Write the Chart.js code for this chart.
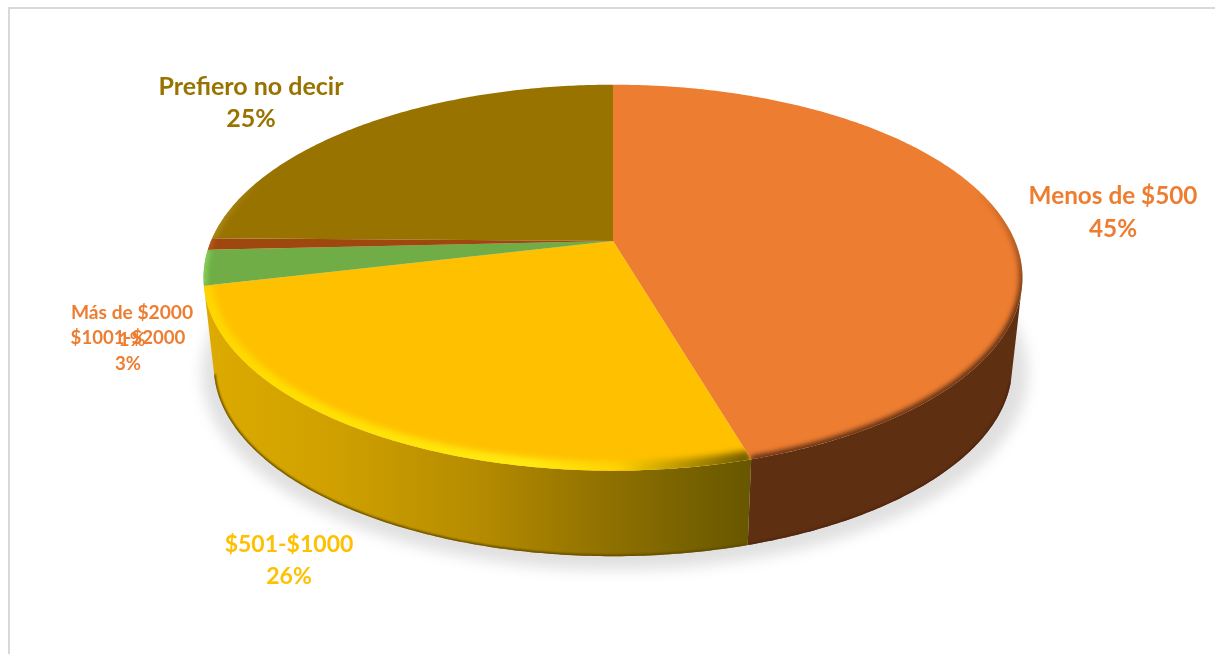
<!DOCTYPE html>
<html>
<head>
<meta charset="utf-8">
<style>
  html, body { margin: 0; padding: 0; background: #fff; }
  canvas { display: block; }
</style>
<script src="https://cdn.jsdelivr.net/npm/chart.js@4/dist/chart.umd.min.js"></script>
</head>
<body>
<canvas id="chart" width="1215" height="654"></canvas>
<script>
const categories = ["Menos de $500", "$501-$1000", "$1001-$2000", "Más de $2000", "Prefiero no decir"];
const shares = [45, 26, 3, 1, 25];

const sliceColors = ["#ED7D31", "#FFC000", "#70AD47", "#9E480E", "#997300"];
const labelColors = ["#ED7D31", "#FFC000", "#ED7D31", "#ED7D31", "#997300"];

// Text placement per category: centre x, first baseline, second baseline, font size
const labelSpots = [
  [1113, 204, 237, 24.3],
  [289, 552, 584, 23],
  [128, 344, 370, 18.6],
  [132, 319, 346, 19.2],
  [251, 95, 127, 25],
];

// Tilted disc seen in perspective: apex of the slices, half width and depth foreshortening.
// twist leans the front of the disc a little clockwise, the top edge stays put.
const disc = { cx: 613, cy: 241, a: 402, b: 186, k: 0.19, twist: 0.03 };
const wall = { drop: 89, xScale: 0.975, yScale: 0.985, minV: 0.25 };

function rimPoint(angle, lower) {
  const t = angle + (disc.twist * (1 + Math.sin(angle))) / 2;
  const u = Math.cos(t);
  const v = Math.sin(t);
  const w = 1 - disc.k * v;
  const x = (disc.a * u) / w;
  const y = (disc.b * v) / w;
  if (lower) {
    return [disc.cx + x * wall.xScale, disc.cy + y * wall.yScale + wall.drop];
  }
  return [disc.cx + x, disc.cy + y];
}

function traceRim(ctx, from, to, lower, join) {
  const steps = Math.max(2, Math.ceil(Math.abs(to - from) * 90));
  for (let i = 0; i <= steps; i++) {
    const p = rimPoint(from + ((to - from) * i) / steps, lower);
    if (i === 0 && !join) ctx.moveTo(p[0], p[1]);
    else ctx.lineTo(p[0], p[1]);
  }
}

function xGradient(ctx, stops) {
  const g = ctx.createLinearGradient(200, 0, 750, 0);
  stops.forEach(function (s) {
    g.addColorStop(s[0], s[1]);
  });
  return g;
}

// Colour of the bevelled edge on the top face, and of the side wall
function rimStyle(ctx, index) {
  if (index === 0) {
    // fades out towards the back of the disc
    const g = ctx.createLinearGradient(0, 190, 0, 310);
    g.addColorStop(0, "rgba(94, 46, 18, 0)");
    g.addColorStop(1, "rgba(94, 46, 18, 1)");
    return g;
  }
  if (index === 1) {
    return xGradient(ctx, [
      [0, "#FFD400"],
      [0.15, "#FFDE00"],
      [0.6, "#FFEA10"],
      [0.76, "#FFD000"],
      [0.88, "#B89400"],
      [1, "#6E5800"],
    ]);
  }
  if (index === 2) return "#86CF58";
  if (index === 3) return "#B8581A";
  const back = ctx.createLinearGradient(212, 0, 262, 0);
  back.addColorStop(0, "rgba(176, 138, 24, 1)");
  back.addColorStop(1, "rgba(176, 138, 24, 0)");
  return back;
}

function wallStyle(ctx, index) {
  if (index === 0) return "#5F2F12";
  return xGradient(ctx, [
    [0, "#DDAB00"],
    [0.25, "#CFA000"],
    [0.5, "#B68C00"],
    [0.75, "#8E7000"],
    [1, "#675700"],
  ]);
}

class Arc3D extends Chart.ArcElement {
  static id = "arc3d";

  draw(ctx) {
    const index = this.$context ? this.$context.dataIndex : 0;

    ctx.save();
    ctx.beginPath();
    ctx.moveTo(disc.cx, disc.cy);
    traceRim(ctx, this.startAngle, this.endAngle, false, true);
    ctx.closePath();
    ctx.fillStyle = this.options.backgroundColor;
    ctx.fill();
    ctx.clip();

    ctx.filter = index === 1 ? "blur(3px)" : "blur(2.5px)";
    ctx.beginPath();
    traceRim(ctx, this.startAngle, this.endAngle, false, false);
    ctx.strokeStyle = rimStyle(ctx, index);
    ctx.lineWidth = index === 1 ? 18 : 7;
    ctx.stroke();
    ctx.restore();
  }
}

class Pie3DController extends Chart.PieController {
  static id = "pie3d";
  static defaults = { dataElementType: "arc3d" };
}

Chart.register(Arc3D, Pie3DController);

// Frame lines along the top and left, ground shadow and side walls behind the slices
const bodyPlugin = {
  id: "pieBody",
  beforeDatasetsDraw(chart) {
    const ctx = chart.ctx;

    ctx.save();
    ctx.strokeStyle = "#D9D9D9";
    ctx.lineWidth = 2;
    ctx.beginPath();
    ctx.moveTo(1215, 8);
    ctx.lineTo(9, 8);
    ctx.lineTo(9, 654);
    ctx.stroke();
    ctx.restore();

    ctx.save();
    ctx.filter = "blur(7px)";
    ctx.fillStyle = "rgba(0, 0, 0, 0.12)";
    ctx.beginPath();
    ctx.ellipse(disc.cx + 2, 373, 413, 197, 0, 0, Math.PI * 2);
    ctx.fill();
    ctx.restore();

    const arcs = chart.getDatasetMeta(0).data;
    const lo = Math.asin(wall.minV);
    const hi = Math.PI - lo;
    arcs.forEach(function (arc, index) {
      const from = Math.max(arc.startAngle, lo);
      const to = Math.min(arc.endAngle, hi);
      if (to <= from) return;
      ctx.save();
      ctx.beginPath();
      traceRim(ctx, from, to, false, false);
      traceRim(ctx, to, from, true, true);
      ctx.closePath();
      ctx.fillStyle = wallStyle(ctx, index);
      ctx.fill();
      ctx.clip();
      // dark lip where the wall meets the ground
      ctx.filter = "blur(1px)";
      ctx.beginPath();
      traceRim(ctx, from, to, true, false);
      ctx.strokeStyle = index === 0 ? "#4E2410" : "#5E4800";
      ctx.lineWidth = 3;
      ctx.stroke();
      ctx.restore();
    });
  },
};

const labelPlugin = {
  id: "pieLabels",
  afterDatasetsDraw(chart) {
    const ctx = chart.ctx;
    ctx.save();
    ctx.textAlign = "center";
    ctx.textBaseline = "alphabetic";
    categories.forEach(function (name, i) {
      const spot = labelSpots[i];
      ctx.font = "bold " + spot[3] + 'px Lato, "Open Sans", sans-serif';
      ctx.fillStyle = labelColors[i];
      ctx.fillText(name, spot[0], spot[1]);
      ctx.fillText(shares[i] + "%", spot[0], spot[2]);
    });
    ctx.restore();
  },
};

new Chart(document.getElementById("chart"), {
  type: "pie3d",
  data: {
    labels: categories,
    datasets: [{ data: shares, backgroundColor: sliceColors, borderWidth: 0 }],
  },
  options: {
    responsive: false,
    animation: false,
    events: [],
    plugins: { legend: { display: false }, tooltip: { enabled: false } },
  },
  plugins: [bodyPlugin, labelPlugin],
});
</script>
</body>
</html>
